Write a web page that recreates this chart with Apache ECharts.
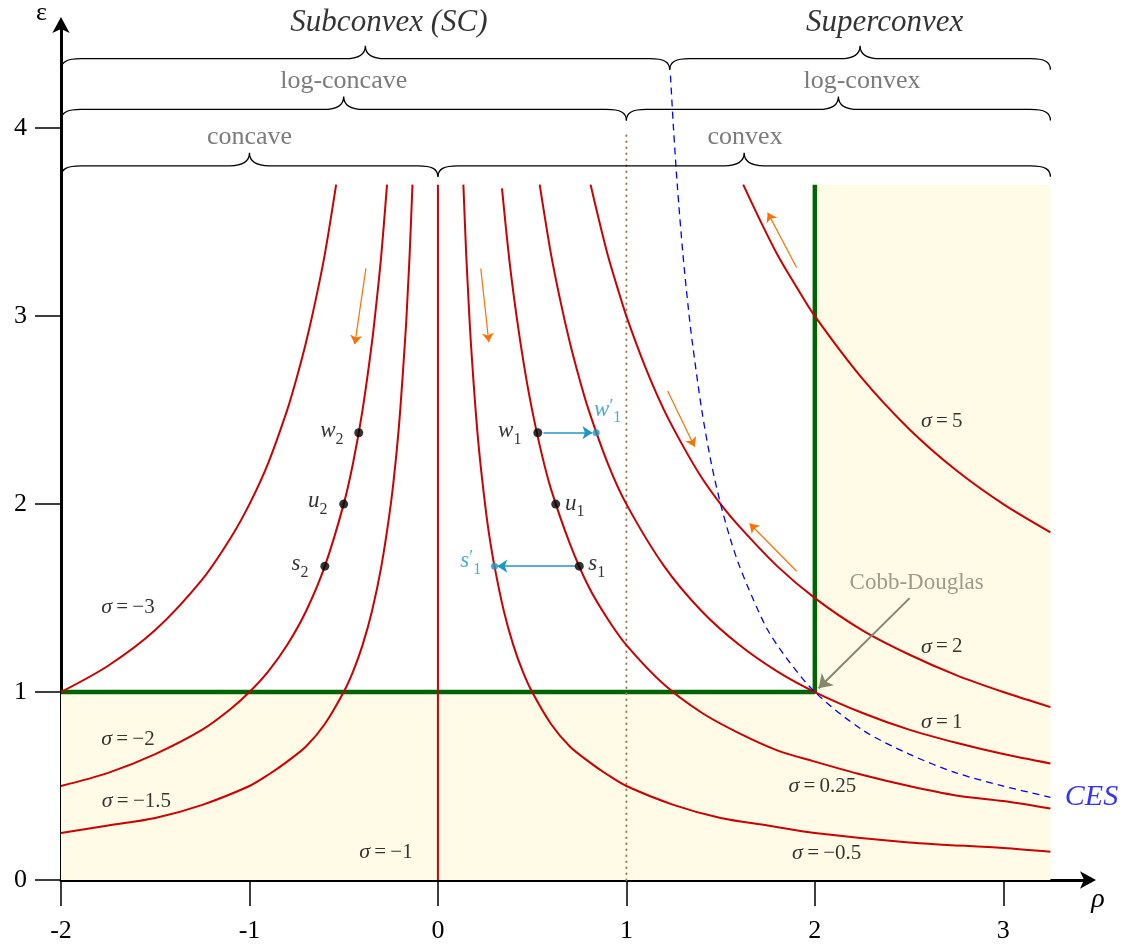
<!DOCTYPE html>
<html>
<head>
<meta charset="utf-8">
<script src="https://cdn.jsdelivr.net/npm/echarts@6/dist/echarts.min.js"></script>
<style>
  html, body { margin: 0; padding: 0; background: #ffffff; }
  #chart { width: 1125px; height: 945px; }
</style>
</head>
<body>
<div id="chart"></div>
<script>
  // curves, [rho, epsilon]
  var sigmaM3 = [[-2.0, 1.0], [-1.75, 1.14], [-1.5, 1.33], [-1.25, 1.6], [-1.1, 1.82], [-1.0, 2.0], [-0.9, 2.22], [-0.8, 2.5], [-0.75, 2.67], [-0.7, 2.86], [-0.65, 3.08], [-0.6, 3.33], [-0.54, 3.7]];
  var sigmaM2 = [[-2.0, 0.5], [-1.75, 0.57], [-1.5, 0.67], [-1.25, 0.8], [-1.1, 0.91], [-1.0, 1.0], [-0.9, 1.11], [-0.8, 1.25], [-0.7, 1.43], [-0.6, 1.67], [-0.5, 2.0], [-0.45, 2.22], [-0.4, 2.5], [-0.35, 2.86], [-0.32, 3.13], [-0.3, 3.33], [-0.27, 3.7]];
  var sigmaM15 = [[-2.0, 0.25], [-1.75, 0.29], [-1.5, 0.33], [-1.25, 0.4], [-1.0, 0.5], [-0.9, 0.56], [-0.8, 0.63], [-0.7, 0.71], [-0.6, 0.83], [-0.5, 1.0], [-0.45, 1.11], [-0.4, 1.25], [-0.35, 1.43], [-0.3, 1.67], [-0.25, 2.0], [-0.22, 2.27], [-0.2, 2.5], [-0.17, 2.94], [-0.16, 3.13], [-0.15, 3.33], [-0.135, 3.7]];
  var sigmaM1 = [[0, 0], [0, 3.7]];
  var sigmaM05 = [[0.135, 3.7], [0.15, 3.33], [0.16, 3.13], [0.17, 2.94], [0.18, 2.78], [0.2, 2.5], [0.22, 2.27], [0.25, 2.0], [0.27, 1.85], [0.3, 1.67], [0.35, 1.43], [0.4, 1.25], [0.45, 1.11], [0.5, 1.0], [0.6, 0.83], [0.7, 0.71], [0.8, 0.63], [0.9, 0.56], [1.0, 0.5], [1.25, 0.4], [1.5, 0.33], [1.75, 0.29], [2.0, 0.25], [2.5, 0.2], [3.0, 0.17], [3.25, 0.15]];
  var sigma025 = [[0.34, 3.68], [0.38, 3.29], [0.42, 2.98], [0.46, 2.72], [0.5, 2.5], [0.55, 2.27], [0.6, 2.08], [0.7, 1.79], [0.8, 1.56], [0.9, 1.39], [1.0, 1.25], [1.2, 1.04], [1.4, 0.89], [1.6, 0.78], [1.8, 0.69], [2.0, 0.63], [2.25, 0.56], [2.5, 0.5], [2.75, 0.45], [3.0, 0.42], [3.25, 0.38]];
  var sigma1 = [[0.54, 3.7], [0.6, 3.33], [0.65, 3.08], [0.7, 2.86], [0.75, 2.67], [0.8, 2.5], [0.9, 2.22], [1.0, 2.0], [1.2, 1.67], [1.4, 1.43], [1.6, 1.25], [1.8, 1.11], [2.0, 1.0], [2.25, 0.89], [2.5, 0.8], [2.75, 0.73], [3.0, 0.67], [3.25, 0.62]];
  var sigma2 = [[0.81, 3.7], [0.85, 3.53], [0.9, 3.33], [0.95, 3.16], [1.0, 3.0], [1.1, 2.73], [1.2, 2.5], [1.3, 2.31], [1.4, 2.14], [1.5, 2.0], [1.6, 1.88], [1.8, 1.67], [2.0, 1.5], [2.25, 1.33], [2.5, 1.2], [2.75, 1.09], [3.0, 1.0], [3.25, 0.92]];
  var sigma5 = [[1.62, 3.7], [1.7, 3.53], [1.8, 3.33], [1.9, 3.16], [2.0, 3.0], [2.25, 2.67], [2.5, 2.4], [2.75, 2.18], [3.0, 2.0], [3.25, 1.85]];
  var cesCurve = [[1.234, 4.28], [1.25, 4.0], [1.27, 3.7], [1.3, 3.33], [1.33, 3.03], [1.35, 2.86], [1.4, 2.5], [1.45, 2.22], [1.5, 2.0], [1.55, 1.82], [1.6, 1.67], [1.67, 1.5], [1.75, 1.33], [1.85, 1.18], [2.0, 1.0], [2.25, 0.8], [2.5, 0.67], [2.75, 0.57], [3.0, 0.5], [3.25, 0.44]];

  var redCurves = [sigmaM3, sigmaM2, sigmaM15, sigmaM1, sigmaM05, sigma025, sigma1, sigma2, sigma5];

  var cobbDouglasBorder = [[-2, 1], [2, 1], [2, 3.7]];
  var unitConvexity = [[1, 0], [1, 3.98]];

  // braces: [from rho, to rho, epsilon of the flat part]
  var braces = [[-2, 0, 3.8], [0, 3.25, 3.8], [-2, 1, 4.1], [1, 3.25, 4.1], [-2, 1.23, 4.37], [1.23, 3.25, 4.37]];
  var braceLabels = [
    ['Subconvex (SC)', -0.26, 4.56, true],
    ['Superconvex', 2.37, 4.56, true],
    ['log-concave', -0.5, 4.25, false],
    ['log-convex', 2.25, 4.25, false],
    ['concave', -1.0, 3.95, false],
    ['convex', 1.63, 3.95, false]
  ];

  var sigmaLabels = [
    ['−3', -1.645, 1.45], ['−2', -1.645, 0.75], ['−1.5', -1.6, 0.42], ['−1', -0.276, 0.148],
    ['0.25', 2.04, 0.5], ['−0.5', 2.063, 0.143], ['1', 2.673, 0.837], ['2', 2.673, 1.24], ['5', 2.673, 2.44]
  ];

  var blackPoints = [[-0.42, 2.38], [-0.5, 2.0], [-0.6, 1.67], [0.53, 2.38], [0.625, 2.0], [0.75, 1.67]];
  var blackPointNames = [['w', '2', -0.563, 2.374], ['u', '2', -0.637, 2.003], ['s', '2', -0.732, 1.669], ['w', '1', 0.381, 2.374], ['u', '1', 0.726, 1.99], ['s', '1', 0.843, 1.669]];
  var cyanPoints = [[0.84, 2.38], [0.3, 1.67]];
  var cyanPointNames = [['w', '1', 0.901, 2.49], ['s', '1', 0.174, 1.685]];

  var orangeArrows = [
    [[-0.382, 3.254], [-0.441, 2.851]],
    [[0.2275, 3.254], [0.27, 2.862]],
    [[1.219, 2.602], [1.362, 2.305]],
    [[1.903, 3.259], [1.75, 3.551]],
    [[1.903, 1.643], [1.654, 1.897]]
  ];
  var cyanArrows = [[[0.56, 2.38], [0.82, 2.38]], [[0.73, 1.67], [0.315, 1.67]]];
  var cobbArrow = [[[2.503, 1.5], [2.02, 1.02]]];

  var serif = '"Liberation Serif", "DejaVu Serif", serif';
  var red = '#cc0000';
  var cyan = '#2196c4';
  var thin = '\u2009';

  function renderBrace(params, api) {
    var a = api.coord([api.value(0), api.value(2)]);
    var b = api.coord([api.value(1), api.value(2)]);
    var y = a[1], x0 = a[0], x1 = b[0], xm = (x0 + x1) / 2;
    var d = 'M' + x0 + ' ' + (y + 11) +
      ' C' + x0 + ' ' + (y + 3) + ' ' + (x0 + 6) + ' ' + y + ' ' + (x0 + 20) + ' ' + y +
      ' L' + (xm - 20) + ' ' + y +
      ' C' + (xm - 7) + ' ' + y + ' ' + xm + ' ' + (y - 4) + ' ' + xm + ' ' + (y - 13) +
      ' C' + xm + ' ' + (y - 4) + ' ' + (xm + 7) + ' ' + y + ' ' + (xm + 20) + ' ' + y +
      ' L' + (x1 - 20) + ' ' + y +
      ' C' + (x1 - 6) + ' ' + y + ' ' + x1 + ' ' + (y + 3) + ' ' + x1 + ' ' + (y + 11);
    return {
      type: 'path',
      shape: { pathData: d },
      style: { stroke: '#000', fill: 'none', lineWidth: 1.3 }
    };
  }

  function textSeries(items, style) {
    return {
      type: 'scatter',
      symbolSize: 0,
      clip: false,
      silent: true,
      z: 20,
      data: items.map(function (t) {
        return { value: [t[1], t[2]], label: { formatter: t[0] } };
      }),
      label: Object.assign({ show: true, position: 'inside', fontFamily: serif }, style)
    };
  }

  function pointNameRich(color) {
    return {
      v: { fontFamily: serif, fontSize: 23, fontStyle: 'italic', color: color, verticalAlign: 'top', lineHeight: 28 },
      p: { fontFamily: serif, fontSize: 18, color: color, verticalAlign: 'top', lineHeight: 28, padding: [0, 0, 8, 0] },
      sub: { fontFamily: serif, fontSize: 16, color: color, verticalAlign: 'bottom', lineHeight: 28, padding: [10, 0, 0, 0] }
    };
  }

  var series = [];

  series.push({
    type: 'line',
    data: cobbDouglasBorder,
    showSymbol: false,
    z: 3,
    lineStyle: { color: '#006400', width: 4.5 },
    markArea: {
      silent: true,
      itemStyle: { color: '#fffbe6' },
      data: [
        [{ coord: [-2, 0] }, { coord: [3.25, 1] }],
        [{ coord: [2, 1] }, { coord: [3.25, 3.7] }]
      ]
    }
  });

  series.push({
    type: 'line',
    data: unitConvexity,
    showSymbol: false,
    z: 3,
    lineStyle: { color: '#a07850', width: 2, type: [0.5, 5.5], cap: 'round' }
  });

  redCurves.forEach(function (c) {
    series.push({
      type: 'line',
      data: c,
      smooth: c.length > 2 ? 0.3 : false,
      showSymbol: false,
      z: 4,
      lineStyle: { color: red, width: 2 }
    });
  });

  series.push({
    type: 'line',
    data: cesCurve,
    smooth: 0.3,
    showSymbol: false,
    z: 5,
    lineStyle: { color: '#0000ff', width: 1.3, type: [7, 5] }
  });

  series.push({
    type: 'custom',
    renderItem: renderBrace,
    data: braces,
    encode: { x: [0, 1], y: 2 },
    clip: false,
    silent: true,
    z: 6
  });

  function arrowSeries(list, color, width, size) {
    return {
      type: 'lines',
      coordinateSystem: 'cartesian2d',
      symbol: ['none', 'arrow'],
      symbolSize: size,
      silent: true,
      z: 7,
      lineStyle: { color: color, width: width, opacity: 1, curveness: 0 },
      data: list.map(function (a) { return { coords: a }; })
    };
  }
  series.push(arrowSeries(orangeArrows, '#ff7000', 1.2, 9));
  series.push(arrowSeries(cyanArrows, cyan, 1.5, 10));
  series.push(arrowSeries(cobbArrow, '#86866c', 2, 13));

  series.push({ type: 'scatter', data: blackPoints, symbolSize: 9, itemStyle: { color: '#000' }, z: 8 });
  series.push({ type: 'scatter', data: cyanPoints, symbolSize: 7, itemStyle: { color: cyan }, z: 8 });

  series.push(textSeries(braceLabels.filter(function (b) { return b[3]; }), { fontSize: 31, fontStyle: 'italic', color: '#000' }));
  series.push(textSeries(braceLabels.filter(function (b) { return !b[3]; }), { fontSize: 26, color: '#5a5a5a' }));
  series.push(textSeries(sigmaLabels.map(function (s) { return ['{s|σ}' + thin + '=' + thin + s[0], s[1], s[2]]; }), {
    fontSize: 21, color: '#000',
    rich: { s: { fontFamily: serif, fontSize: 22, fontStyle: 'italic', color: '#000' } }
  }));
  series.push(textSeries(blackPointNames.map(function (p) { return ['{v|' + p[0] + '}{sub|' + p[1] + '}', p[2], p[3]]; }), {
    color: '#000', rich: pointNameRich('#000')
  }));
  series.push(textSeries(cyanPointNames.map(function (p) { return ['{v|' + p[0] + '}{p|′}{sub|' + p[1] + '}', p[2], p[3]]; }), {
    color: cyan, rich: pointNameRich(cyan)
  }));
  series.push(textSeries([['CES', 3.468, 0.44]], { fontSize: 30, fontStyle: 'italic', color: '#0000ff' }));
  series.push(textSeries([['Cobb-Douglas', 2.54, 1.58]], { fontSize: 23, color: '#86866c' }));

  var chart = echarts.init(document.getElementById('chart'));
  chart.setOption({
    animation: false,
    backgroundColor: '#ffffff',
    grid: { left: 61, right: 35, top: 20, bottom: 65 },
    xAxis: {
      type: 'value',
      min: -2, max: 3.46, interval: 1,
      name: 'ρ', nameLocation: 'end', nameGap: 8,
      nameTextStyle: { fontFamily: serif, fontSize: 28, fontStyle: 'italic', color: '#000', align: 'center', verticalAlign: 'top', padding: [6, 0, 0, 0] },
      axisLine: { onZero: false, symbol: ['none', 'arrow'], symbolSize: [13, 16], symbolOffset: [0, 6], lineStyle: { color: '#000', width: 3 } },
      axisTick: { length: 26, lineStyle: { color: '#000', width: 1.5 } },
      axisLabel: { margin: 38, showMaxLabel: false, fontFamily: serif, fontSize: 26, color: '#000' },
      splitLine: { show: false }
    },
    yAxis: {
      type: 'value',
      min: 0, max: 4.56, interval: 1,
      name: 'ε', nameLocation: 'end', nameGap: 10,
      nameTextStyle: { fontFamily: serif, fontSize: 26, color: '#000', align: 'right', verticalAlign: 'middle', padding: [0, 14, 0, 0] },
      axisLine: { onZero: false, symbol: ['none', 'arrow'], symbolSize: [13, 16], symbolOffset: [0, 6], lineStyle: { color: '#000', width: 3 } },
      axisTick: { length: 26, lineStyle: { color: '#000', width: 1.5 } },
      axisLabel: { margin: 34, showMaxLabel: false, fontFamily: serif, fontSize: 26, color: '#000' },
      splitLine: { show: false }
    },
    series: series
  });
</script>
</body>
</html>
